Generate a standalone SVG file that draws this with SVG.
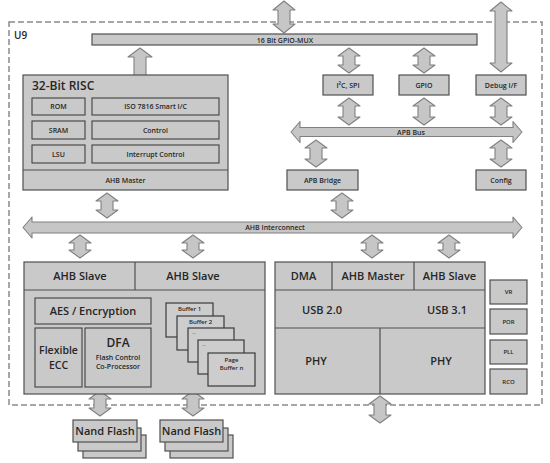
<svg xmlns="http://www.w3.org/2000/svg" width="550" height="463" viewBox="0 0 550 463">
<style>
.b{fill:#c9c9c9;stroke:#505050;stroke-width:1.2}
.bi{fill:#c9c9c9;stroke:#404040;stroke-width:1.1}
.buf{fill:#cdcdcd;stroke:#3a3a3a;stroke-width:1.2}
.ar{fill:#c6c6c6;stroke:#808080;stroke-width:1.1;stroke-linejoin:round}
.dash{fill:none;stroke:#8a8a8a;stroke-width:1.5;stroke-dasharray:6,3}
text{font-family:"Open Sans","Liberation Sans",sans-serif;fill:#262626;font-weight:600;text-anchor:middle}
.s{font-size:7px}
.m{font-size:11px}
.l{font-size:12px}
.t{font-size:6px}
</style>
<rect width="550" height="463" fill="#ffffff"/>
<rect class="dash" x="9" y="22" width="533" height="383"/>
<text x="14" y="39" style="font-size:10px;text-anchor:start">U9</text>

<g id="connectors">
<path class="ar" d="M284,1 L295,10 L290,10 L290,24 L295,24 L284,33 L273,24 L278,24 L278,10 L273,10 Z"/>
<path class="ar" d="M501,2 L512,11 L507,11 L507,63 L512,63 L501,72 L490,63 L495,63 L495,11 L490,11 Z"/>
<path class="ar" d="M140,48 L152,57 L146,57 L146,83 L152,83 L140,92 L128,83 L134,83 L134,57 L128,57 Z"/>
<path class="ar" d="M349,48 L360,56 L355,56 L355,65 L360,65 L349,73 L338,65 L343,65 L343,56 L338,56 Z"/>
<path class="ar" d="M424,48 L435,56 L430,56 L430,65 L435,65 L424,73 L413,65 L418,65 L418,56 L413,56 Z"/>
<path class="ar" d="M349,98 L360,106 L355,106 L355,117 L360,117 L349,125 L338,117 L343,117 L343,106 L338,106 Z"/>
<path class="ar" d="M424,98 L435,106 L430,106 L430,117 L435,117 L424,125 L413,117 L418,117 L418,106 L413,106 Z"/>
<path class="ar" d="M501,98 L512,106 L507,106 L507,117 L512,117 L501,125 L490,117 L495,117 L495,106 L490,106 Z"/>
<path class="ar" d="M316,140 L327,148 L322,148 L322,159 L327,159 L316,167 L305,159 L310,159 L310,148 L305,148 Z"/>
<path class="ar" d="M501,140 L512,148 L507,148 L507,159 L512,159 L501,167 L490,159 L495,159 L495,148 L490,148 Z"/>
<path class="ar" d="M107,193 L118,201 L113,201 L113,210 L118,210 L107,218 L96,210 L101,210 L101,201 L96,201 Z"/>
<path class="ar" d="M342,193 L353,201 L348,201 L348,210 L353,210 L342,218 L331,210 L336,210 L336,201 L331,201 Z"/>
<path class="ar" d="M80,235 L91,243 L86,243 L86,250 L91,250 L80,258 L69,250 L74,250 L74,243 L69,243 Z"/>
<path class="ar" d="M193,235 L204,243 L199,243 L199,250 L204,250 L193,258 L182,250 L187,250 L187,243 L182,243 Z"/>
<path class="ar" d="M372,235 L383,243 L378,243 L378,250 L383,250 L372,258 L361,250 L366,250 L366,243 L361,243 Z"/>
<path class="ar" d="M449,235 L460,243 L455,243 L455,250 L460,250 L449,258 L438,250 L443,250 L443,243 L438,243 Z"/>
<path class="ar" d="M100,391 L111,399 L106,399 L106,408 L111,408 L100,416 L89,408 L94,408 L94,399 L89,399 Z"/>
<path class="ar" d="M193,391 L204,399 L199,399 L199,408 L204,408 L193,416 L182,408 L187,408 L187,399 L182,399 Z"/>
<path class="ar" d="M380,396 L391,404 L386,404 L386,415 L391,415 L380,423 L369,415 L374,415 L374,404 L369,404 Z"/>
<path class="ar" d="M291,132 L300,121.5 L300,127.5 L513,127.5 L513,121.5 L522,132 L513,142.5 L513,136.5 L300,136.5 L300,142.5 Z"/>
<path class="ar" d="M23,227.5 L32,217 L32,222 L513,222 L513,217 L522,227.5 L513,238 L513,233 L32,233 L32,238 Z"/>
</g>

<g id="gpio-mux">
<rect class="b" x="92" y="34" width="385" height="11"/>
<text class="s" x="285" y="42.5">16 Bit GPIO-MUX</text>
</g>
<text class="s" x="411" y="134.5">APB Bus</text>
<text class="s" x="275" y="230">AHB Interconnect</text>

<g id="risc">
<rect class="b" x="23" y="75" width="205" height="115"/>
<line x1="23" y1="170" x2="228" y2="170" stroke="#505050" stroke-width="1.2"/>
<text x="32" y="90" style="font-size:12px;text-anchor:start">32-Bit RISC</text>
<rect class="bi" x="32" y="98" width="53" height="17"/>
<text class="s" x="58.5" y="109">ROM</text>
<rect class="bi" x="92" y="98" width="127" height="17"/>
<text class="s" x="155.5" y="109">ISO 7816  Smart I/C</text>
<rect class="bi" x="32" y="121" width="53" height="18"/>
<text class="s" x="58.5" y="132.5">SRAM</text>
<rect class="bi" x="92" y="121" width="127" height="18"/>
<text class="s" x="155.5" y="132.5">Control</text>
<rect class="bi" x="32" y="145" width="53" height="18"/>
<text class="s" x="58.5" y="156.5">LSU</text>
<rect class="bi" x="92" y="145" width="127" height="18"/>
<text class="s" x="155.5" y="156.5">Interrupt Control</text>
<text class="s" x="125.5" y="182.5">AHB Master</text>
</g>

<g id="i2c-spi">
<rect class="b" x="323" y="75" width="50" height="20"/>
<text class="s" x="348" y="87.5">I²C, SPI</text>
</g>
<g id="gpio">
<rect class="b" x="399" y="75" width="50" height="20"/>
<text class="s" x="424" y="87.5">GPIO</text>
</g>
<g id="debug-if">
<rect class="b" x="476" y="75" width="50" height="20"/>
<text class="s" x="501" y="87.5">Debug I/F</text>
</g>
<g id="apb-bridge">
<rect class="b" x="287" y="170" width="71" height="20"/>
<text class="s" x="322.5" y="182.5">APB Bridge</text>
</g>
<g id="config">
<rect class="b" x="476" y="170" width="50" height="20"/>
<text class="s" x="501" y="182.5">Config</text>
</g>

<g id="flash-controller">
<rect class="b" x="24" y="262" width="241" height="132"/>
<line x1="24" y1="290" x2="265" y2="290" stroke="#505050" stroke-width="1.2"/>
<line x1="135" y1="262" x2="135" y2="290" stroke="#505050" stroke-width="1.2"/>
<text class="m" x="80" y="280">AHB Slave</text>
<text class="m" x="193" y="280">AHB Slave</text>
<rect class="bi" x="35" y="298" width="116" height="26"/>
<text class="m" x="93" y="315">AES / Encryption</text>
<rect class="bi" x="35" y="328" width="47" height="59"/>
<text x="58.5" y="354" style="font-size:10.5px">Flexible</text>
<text x="58.5" y="369" style="font-size:10.5px">ECC</text>
<rect class="bi" x="85" y="328" width="66" height="59"/>
<text class="l" x="118" y="347">DFA</text>
<text class="s" x="118" y="360">Flash Control</text>
<text class="s" x="118" y="369">Co-Processor</text>
<rect class="buf" x="166" y="303" width="47" height="34"/>
<text class="t" x="189.5" y="311">Buffer 1</text>
<rect class="buf" x="177" y="316" width="47" height="34"/>
<text class="t" x="200.5" y="324">Buffer 2</text>
<rect class="buf" x="188" y="328" width="46" height="34"/>
<text class="t" x="194" y="334" style="font-size:4px">...</text>
<rect class="buf" x="198" y="340" width="46" height="34"/>
<text class="t" x="204" y="346" style="font-size:4px">...</text>
<rect class="buf" x="208" y="353" width="47" height="33"/>
<text class="t" x="231.5" y="362">Page</text>
<text class="t" x="231.5" y="370">Buffer n</text>
</g>

<g id="usb">
<rect class="b" x="275" y="262" width="210" height="132"/>
<line x1="275" y1="290" x2="485" y2="290" stroke="#505050" stroke-width="1.2"/>
<line x1="275" y1="328" x2="485" y2="328" stroke="#505050" stroke-width="1.2"/>
<line x1="332" y1="262" x2="332" y2="290" stroke="#505050" stroke-width="1.2"/>
<line x1="414" y1="262" x2="414" y2="290" stroke="#505050" stroke-width="1.2"/>
<line x1="380" y1="328" x2="380" y2="394" stroke="#505050" stroke-width="1.2"/>
<text class="m" x="303.5" y="280">DMA</text>
<text class="m" x="373" y="280">AHB Master</text>
<text class="m" x="449.5" y="280">AHB Slave</text>
<text class="m" x="322" y="314">USB 2.0</text>
<text class="m" x="447" y="314">USB 3.1</text>
<text class="m" x="316" y="365">PHY</text>
<text class="m" x="441" y="365">PHY</text>
</g>

<g id="vr"><rect class="b" x="490" y="280" width="37" height="24"/><text class="t" x="508.5" y="294">VR</text></g>
<g id="por"><rect class="b" x="490" y="309" width="37" height="25"/><text class="t" x="508.5" y="323.5">POR</text></g>
<g id="pll"><rect class="b" x="490" y="340" width="37" height="24"/><text class="t" x="508.5" y="354">PLL</text></g>
<g id="rco"><rect class="b" x="490" y="369" width="37" height="25"/><text class="t" x="508.5" y="383.5">RCO</text></g>

<g id="nand-flash-1">
<rect class="b" x="83" y="435" width="63" height="23"/>
<rect class="b" x="78" y="428" width="63" height="23"/>
<rect class="b" x="73" y="420" width="64" height="22"/>
<text class="m" x="105" y="435">Nand Flash</text>
</g>
<g id="nand-flash-2">
<rect class="b" x="170" y="435" width="63" height="23"/>
<rect class="b" x="165" y="428" width="63" height="23"/>
<rect class="b" x="160" y="420" width="63" height="22"/>
<text class="m" x="191.5" y="435">Nand Flash</text>
</g>
</svg>
